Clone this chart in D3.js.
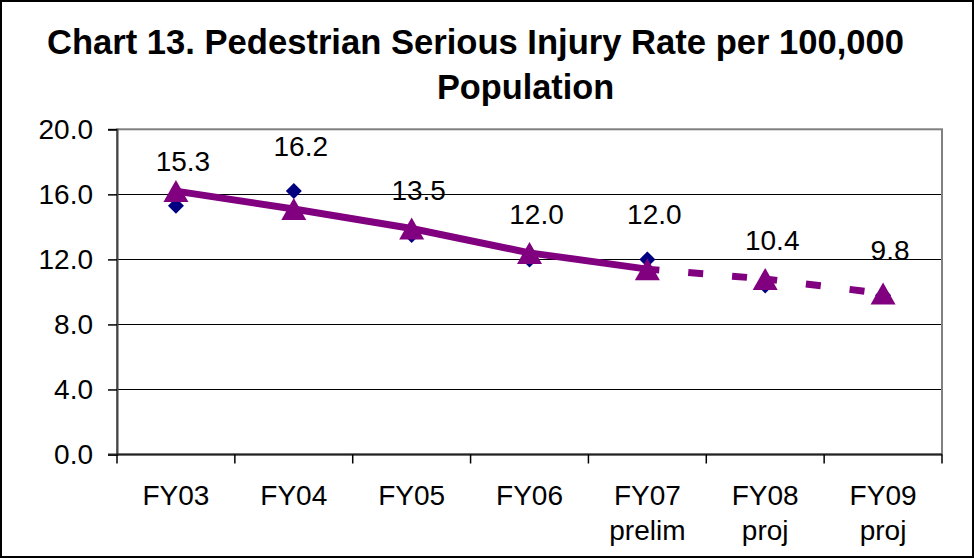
<!DOCTYPE html>
<html>
<head>
<meta charset="utf-8">
<script src="https://cdn.jsdelivr.net/npm/d3@7"></script>
<style>
  html, body { margin: 0; padding: 0; background: #fff; }
  svg { display: block; }
  text { font-family: "Liberation Sans", Arial, sans-serif; fill: #000; }
</style>
</head>
<body>
<svg id="chart" width="974" height="558"></svg>
<script>
// ---- data ----
const categories = ["FY03", "FY04", "FY05", "FY06", "FY07", "FY08", "FY09"];
const subLabels  = ["", "", "", "", "prelim", "proj", "proj"];
const actualRate = [15.3, 16.2, 13.5, 12.0, 12.0, 10.4, 9.8];
const trendRate  = [16.2, 15.1, 13.9, 12.4, 11.4, 10.8, 9.9];
const projectedFrom = 4; // index where trend becomes dashed (FY07 onward)
const yTicks = [0, 4, 8, 12, 16, 20];
const titleLines = ["Chart 13. Pedestrian Serious Injury Rate per 100,000", "Population"];

// ---- layout ----
const W = 974, H = 558;
const plot = { left: 117, right: 942, top: 129.3, bottom: 454.5 };
const svg = d3.select("#chart");

// outer border
svg.append("rect").attr("x", 1).attr("y", 1).attr("width", W - 2).attr("height", H - 2)
  .attr("fill", "#fff").attr("stroke", "#000").attr("stroke-width", 2);

const x = d3.scaleBand().domain(categories).range([plot.left, plot.right]).padding(0);
const y = d3.scaleLinear().domain([0, 20]).range([plot.bottom, plot.top]);
const cx = c => x(c) + x.bandwidth() / 2;

// title
svg.append("text").attr("x", 475.5).attr("y", 53.5).attr("text-anchor", "middle")
  .attr("font-size", 34.6).attr("font-weight", "bold").text(titleLines[0]);
svg.append("text").attr("x", 525.5).attr("y", 98.5).attr("text-anchor", "middle")
  .attr("font-size", 34.3).attr("font-weight", "bold").text(titleLines[1]);

// gridlines
svg.append("g").selectAll("line").data(yTicks.filter(t => t > 0 && t < 20)).join("line")
  .attr("x1", plot.left).attr("x2", plot.right)
  .attr("y1", d => y(d)).attr("y2", d => y(d))
  .attr("stroke", "#000").attr("stroke-width", 1).attr("shape-rendering", "crispEdges");

// plot area border
svg.append("rect").attr("x", plot.left).attr("y", plot.top)
  .attr("width", plot.right - plot.left).attr("height", plot.bottom - plot.top)
  .attr("fill", "none").attr("stroke", "#808080").attr("stroke-width", 2);

// y axis
const yAxis = d3.axisLeft(y).tickValues(yTicks).tickFormat(d3.format(".1f")).tickSize(9).tickPadding(15);
const gy = svg.append("g").attr("transform", `translate(${plot.left},0)`).call(yAxis);
gy.select(".domain").attr("stroke", "#444").attr("stroke-width", 2);
gy.selectAll(".tick line").attr("stroke", "#000").attr("stroke-width", 1.5);
gy.selectAll(".tick text").attr("font-size", 28).attr("font-family", "Liberation Sans, Arial, sans-serif").attr("fill", "#000");

// x axis (ticks between categories)
const gx = svg.append("g").attr("transform", `translate(0,${plot.bottom})`);
gx.append("line").attr("x1", plot.left - 9).attr("x2", plot.right)
  .attr("stroke", "#222").attr("stroke-width", 2);
const boundaries = categories.map(c => x(c)).concat([x(categories[categories.length - 1]) + x.bandwidth()]);
gx.selectAll("line.tk").data(boundaries).join("line").attr("class", "tk")
  .attr("x1", d => d).attr("x2", d => d).attr("y1", 0).attr("y2", 9)
  .attr("stroke", "#000").attr("stroke-width", 1.5);
const xl = gx.selectAll("text.cat").data(categories).join("text").attr("class", "cat")
  .attr("text-anchor", "middle").attr("font-size", 28)
  .attr("transform", d => `translate(${cx(d)},0)`);
xl.append("tspan").attr("x", 0).attr("y", 50.5).text(d => d);
xl.append("tspan").attr("x", 0).attr("y", 85).text((d, i) => subLabels[i]);

// actual series: navy diamonds
const diamond = "M0,-8L8,0L0,8L-8,0Z";
svg.append("g").selectAll("path").data(actualRate).join("path")
  .attr("d", diamond)
  .attr("transform", (d, i) => `translate(${cx(categories[i])},${y(d)})`)
  .attr("fill", "#000080");

// trend series: purple line (solid then dashed) with triangles
const pts = trendRate.map((v, i) => [cx(categories[i]), y(v)]);
const line = d3.line();
svg.append("path").attr("d", line(pts.slice(0, projectedFrom + 1)))
  .attr("fill", "none").attr("stroke", "#800080").attr("stroke-width", 7)
  .attr("stroke-linejoin", "round");
for (let i = projectedFrom; i < pts.length - 1; i++) {
  svg.append("path").attr("d", line([pts[i], pts[i + 1]]))
    .attr("fill", "none").attr("stroke", "#800080").attr("stroke-width", 7)
    .attr("stroke-dasharray", "15 29").attr("stroke-dashoffset", 3);
}
const tri = "M0,-11L12.5,11L-12.5,11Z";
svg.append("g").selectAll("path").data(pts).join("path")
  .attr("d", tri)
  .attr("transform", d => `translate(${d[0]},${d[1]})`)
  .attr("fill", "#800080");

// data labels (actual values)
svg.append("g").selectAll("text").data(actualRate).join("text")
  .attr("x", (d, i) => cx(categories[i]) + 7)
  .attr("y", d => y(d) - 45)
  .attr("dy", "0.36em")
  .attr("text-anchor", "middle").attr("font-size", 28)
  .text(d => d3.format(".1f")(d));
</script>
</body>
</html>
